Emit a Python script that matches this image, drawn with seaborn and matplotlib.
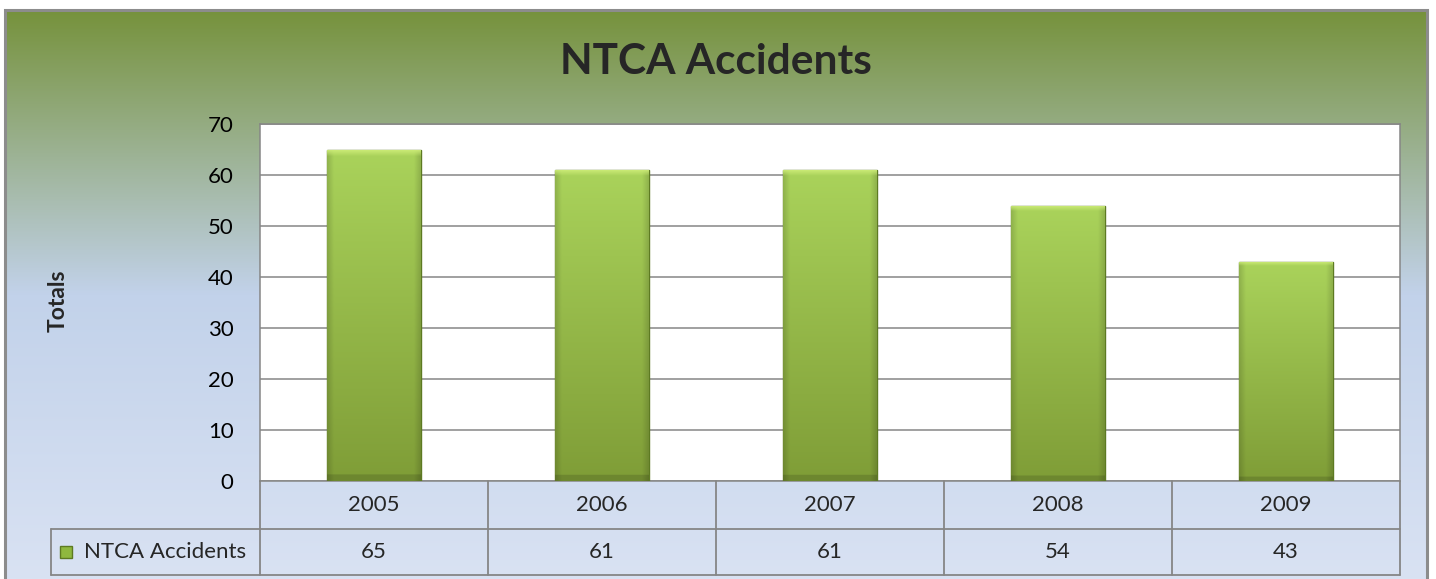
import numpy as np
import pandas as pd
import matplotlib
matplotlib.use("Agg")
import matplotlib.pyplot as plt
from matplotlib.colors import LinearSegmentedColormap, to_rgb
from matplotlib.patches import Rectangle
import seaborn as sns

# Data
years = ["2005", "2006", "2007", "2008", "2009"]
accidents = [65, 61, 61, 54, 43]
series_name = "NTCA Accidents"
title = "NTCA Accidents"
ylabel = "Totals"

df = pd.DataFrame({"year": years, "count": accidents})

sns.set_style("white")
plt.rcParams["font.family"] = ["Lato", "DejaVu Sans"]

W, H = 1436, 579
fig = plt.figure(figsize=(W / 100, H / 100), dpi=100)
fig.patch.set_facecolor("white")

# background gradient of the chart frame
bg = fig.add_axes([5 / W, 0, (1427 - 5) / W, (H - 10) / H], zorder=0)
bg_cmap = LinearSegmentedColormap.from_list(
    "bg", [(0, "#76923c"), (0.5, "#c2d2ea"), (1, "#d9e2f3")])
bg.imshow(np.linspace(0, 1, 256)[:, None], aspect="auto", cmap=bg_cmap,
          extent=[0, 1, 0, 1])
bg.set_axis_off()
fig.patches.append(Rectangle((5 / W, -0.01), (1422) / W, (H - 10) / H + 0.01,
                             transform=fig.transFigure, fill=False,
                             edgecolor="#8c8c8c", linewidth=2.2, zorder=5))

# main plot area
ax = fig.add_axes([260 / W, 98 / H, 1140 / W, 357 / H], zorder=2)
ax.set_facecolor("white")
sns.barplot(data=df, x="year", y="count", width=0.41, color="#9bc34a",
            edgecolor="#5d7a22", linewidth=1.0, ax=ax, zorder=3)

# gradient fill inside each bar (with a light bevel on top)
top = np.array(to_rgb("#aad35b"))
bottom = np.array(to_rgb("#7f9d37"))
v = np.linspace(0, 1, 300)[:, None, None]
img = top * (1 - v) + bottom * v
img = np.repeat(img, 80, axis=1)
hx = np.linspace(0, 1, 80)
edge = np.clip(np.minimum(hx, 1 - hx) / 0.07, 0, 1) * 0.14 + 0.86
img = img * edge[None, :, None]
light = np.array(to_rgb("#cdec78"))
for r in range(6):
    a = 1 - r / 6
    img[r] = img[r] * (1 - a) + light * a
img[-6:] = img[-6:] * 0.86
for p in ax.patches:
    x0, y0 = p.get_x(), p.get_y()
    w, h = p.get_width(), p.get_height()
    im = ax.imshow(img, extent=[x0, x0 + w, y0, y0 + h], aspect="auto",
                   zorder=3.5, interpolation="bilinear")
    im.set_clip_path(p)

ax.set_xlim(-0.5, len(years) - 0.5)
ax.set_ylim(0, 70)
ax.set_yticks(range(0, 71, 10))
ax.yaxis.grid(True, color="#868686", linewidth=1.1)
ax.set_axisbelow(True)
ax.tick_params(axis="y", length=0, pad=19, labelsize=16, colors="black")
ax.set_xticks([])
ax.set_xlabel("")
ax.set_ylabel("")
for s in ax.spines.values():
    s.set_color("#868686")
    s.set_linewidth(1.1)
    s.set_visible(True)

# data table under the plot
line_kw = dict(color="#868686", linewidth=1.3, transform=ax.transAxes,
               clip_on=False)
r1, r2 = -48 / 357, -94 / 357
leg_x = -209 / 1140
ax.plot([0, 1], [r1, r1], **line_kw)
ax.plot([leg_x, 1], [r2, r2], **line_kw)
ax.plot([leg_x, 0], [r1, r1], **line_kw)
ax.plot([leg_x, leg_x], [r1, r2], **line_kw)
n = len(years)
for k in range(n + 1):
    ax.plot([k / n, k / n], [0, r2], **line_kw)
for i, (yr, val) in enumerate(zip(years, accidents)):
    ax.text((i + 0.5) / n, r1 / 2, yr, transform=ax.transAxes,
            ha="center", va="center", fontsize=16)
    ax.text((i + 0.5) / n, (r1 + r2) / 2, str(val), transform=ax.transAxes,
            ha="center", va="center", fontsize=16)
ax.add_patch(Rectangle((-200 / 1140, (r1 + r2) / 2 - 6 / 357), 12 / 1140,
                       12 / 357, transform=ax.transAxes, clip_on=False,
                       facecolor="#8fb83e", edgecolor="#5d7a22", linewidth=1))
ax.text(-176 / 1140, (r1 + r2) / 2, series_name, transform=ax.transAxes,
        ha="left", va="center", fontsize=16)

fig.text(716 / W, 1 - 62 / H, title, ha="center", va="center",
         fontsize=30.5, fontweight="bold")
fig.text(58 / W, 1 - 301 / H, ylabel, ha="center", va="center",
         rotation=90, fontsize=16.5, fontweight="bold")

fig.savefig("out.png", dpi=100)
